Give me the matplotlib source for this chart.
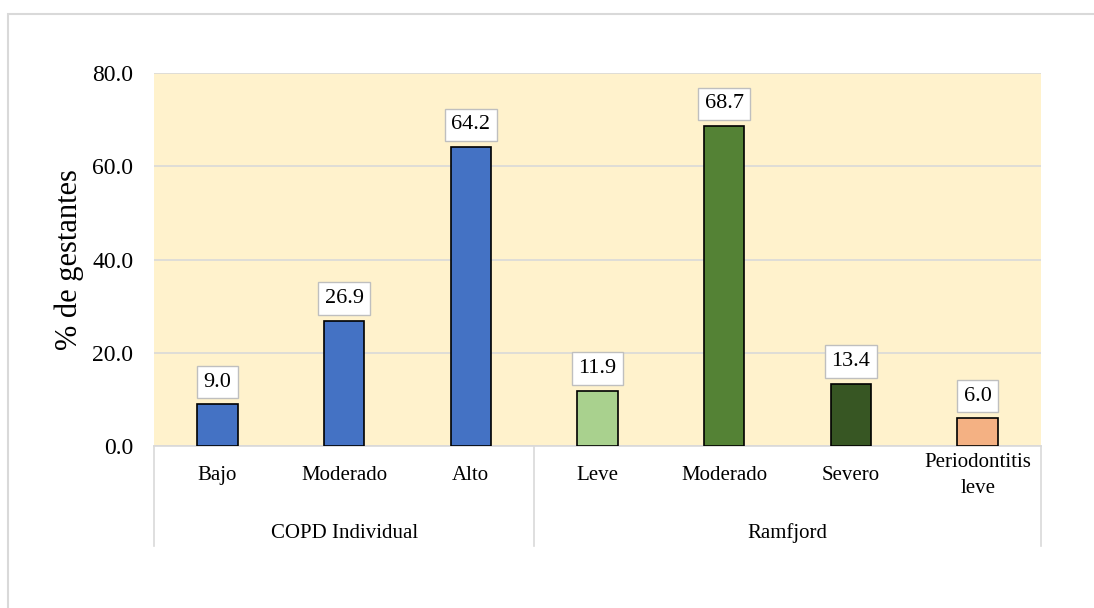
import matplotlib.pyplot as plt
import matplotlib.patches as mpatches
import numpy as np

plt.rcParams['font.family'] = ['Liberation Serif', 'DejaVu Serif']

categories = ['Bajo', 'Moderado', 'Alto', 'Leve', 'Moderado', 'Severo', 'Periodontitis\nleve']
values = [9.0, 26.9, 64.2, 11.9, 68.7, 13.4, 6.0]
colors = ['#4472C4', '#4472C4', '#4472C4', '#A9D18E', '#548235', '#375623', '#F4B183']
groups = ['COPD Individual', 'Ramfjord']
group_sizes = [3, 4]
yticks = [0, 20, 40, 60, 80]

W, H = 1094, 608
fig = plt.figure(figsize=(W / 100, H / 100), dpi=100)

# light gray outer frame like the Excel chart area
fig.patches.append(mpatches.Rectangle((8 / W, -0.1), 1.2, 1 - 14 / H + 0.1,
                                      transform=fig.transFigure, fill=False,
                                      edgecolor='#D9D9D9', linewidth=1.5))

left, right, top, bottom = 154, 1041, 73, 446
ax = fig.add_axes([left / W, 1 - bottom / H, (right - left) / W, (bottom - top) / H])
ax.set_facecolor('#FFF2CC')

x = np.arange(len(values))
ax.bar(x, values, width=0.32, color=colors, edgecolor='black', linewidth=1.2, zorder=3)

for xi, v in zip(x, values):
    ax.annotate(f'{v:.1f}', (xi, v), xytext=(0, 9), textcoords='offset points',
                ha='center', va='bottom', fontsize=16,
                bbox=dict(boxstyle='square,pad=0.3', fc='white', ec='#BFBFBF', lw=1),
                zorder=4)

ax.set_xlim(-0.5, len(values) - 0.5)
ax.set_ylim(0, 80)
ax.set_yticks(yticks)
ax.set_yticklabels([f'{t:.1f}' for t in yticks], fontsize=17)
ax.yaxis.grid(True, color='#D9D9D9', linewidth=1.2, zorder=0)
ax.set_axisbelow(True)
ax.tick_params(axis='y', length=0, pad=15)
ax.tick_params(axis='x', length=0, pad=21)
ax.set_xticks(x)
ax.set_xticklabels(categories, fontsize=15, linespacing=1.5, va='center')
ax.set_ylabel('% de gestantes', fontsize=22, labelpad=6)

for s in ['top', 'right', 'left']:
    ax.spines[s].set_visible(False)
ax.spines['bottom'].set_color('#D9D9D9')
ax.spines['bottom'].set_linewidth(1.2)

# group separators and group labels under the axis
trans = ax.get_xaxis_transform()
sep_depth = -(546 - bottom) / (bottom - top)
edges = np.concatenate([[0], np.cumsum(group_sizes)]) - 0.5
for e in edges:
    ax.plot([e, e], [0, sep_depth], transform=trans, color='#D9D9D9',
            linewidth=1.2, clip_on=False)
for g, a, b in zip(groups, edges[:-1], edges[1:]):
    ax.text((a + b) / 2, -(533 - bottom) / (bottom - top), g, transform=trans,
            ha='center', va='center', fontsize=15)

fig.savefig('out.png', dpi=100)
